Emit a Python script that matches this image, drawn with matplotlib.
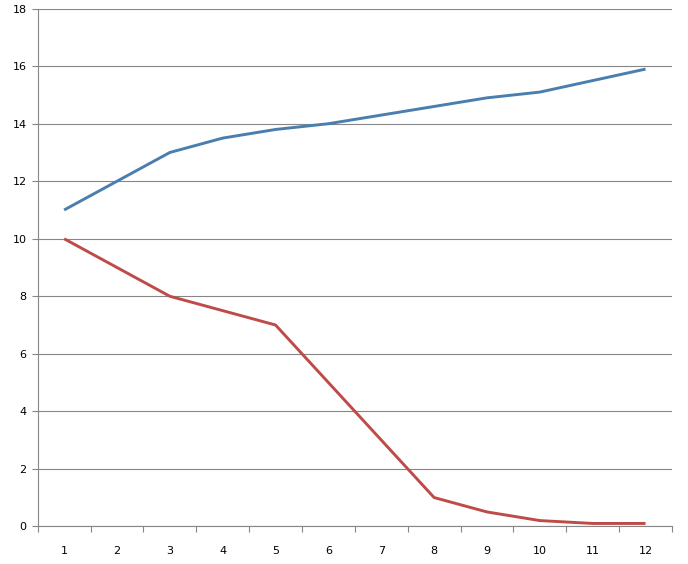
import matplotlib.pyplot as plt

categories = [1, 2, 3, 4, 5, 6, 7, 8, 9, 10, 11, 12]
series_up = [11.0, 12.0, 13.0, 13.5, 13.8, 14.0, 14.3, 14.6, 14.9, 15.1, 15.5, 15.9]
series_down = [10.0, 9.0, 8.0, 7.5, 7.0, 5.0, 3.0, 1.0, 0.5, 0.2, 0.1, 0.1]
y_ticks = [0, 2, 4, 6, 8, 10, 12, 14, 16, 18]


def main():
    fig = plt.figure(figsize=(6.88, 5.64), dpi=100)
    ax = fig.add_axes([0.0548, 0.0668, 0.9219, 0.9178])

    pos = list(range(len(categories)))
    ax.plot(pos, series_up, color='#4A7EAE', linewidth=2.1, solid_capstyle='butt')
    ax.plot(pos, series_down, color='#BE4B48', linewidth=2.1, solid_capstyle='butt')

    ax.set_xlim(-0.5, len(categories) - 0.5)
    ax.set_ylim(0, 18)
    ax.set_yticks(y_ticks)
    ax.set_yticklabels([str(t) for t in y_ticks])
    ax.grid(axis='y', color='#868686', linewidth=0.8)
    ax.set_axisbelow(True)

    # category labels sit between the tick marks, like Excel
    ax.set_xticks([p - 0.5 for p in pos] + [len(categories) - 0.5])
    ax.set_xticklabels([])
    ax.set_xticks(pos, minor=True)
    ax.set_xticklabels([str(c) for c in categories], minor=True)
    ax.tick_params(axis='x', which='minor', length=0, pad=14, labelsize=8)
    ax.tick_params(axis='x', which='major', length=4, color='#868686', width=0.8)
    ax.tick_params(axis='y', length=4, color='#868686', width=0.8, labelsize=8, pad=4)

    for side in ['top', 'right']:
        ax.spines[side].set_visible(False)
    for side in ['left', 'bottom']:
        ax.spines[side].set_color('#868686')
        ax.spines[side].set_linewidth(0.8)

    fig.savefig('out.png', dpi=100)


if __name__ == "__main__":
    main()
